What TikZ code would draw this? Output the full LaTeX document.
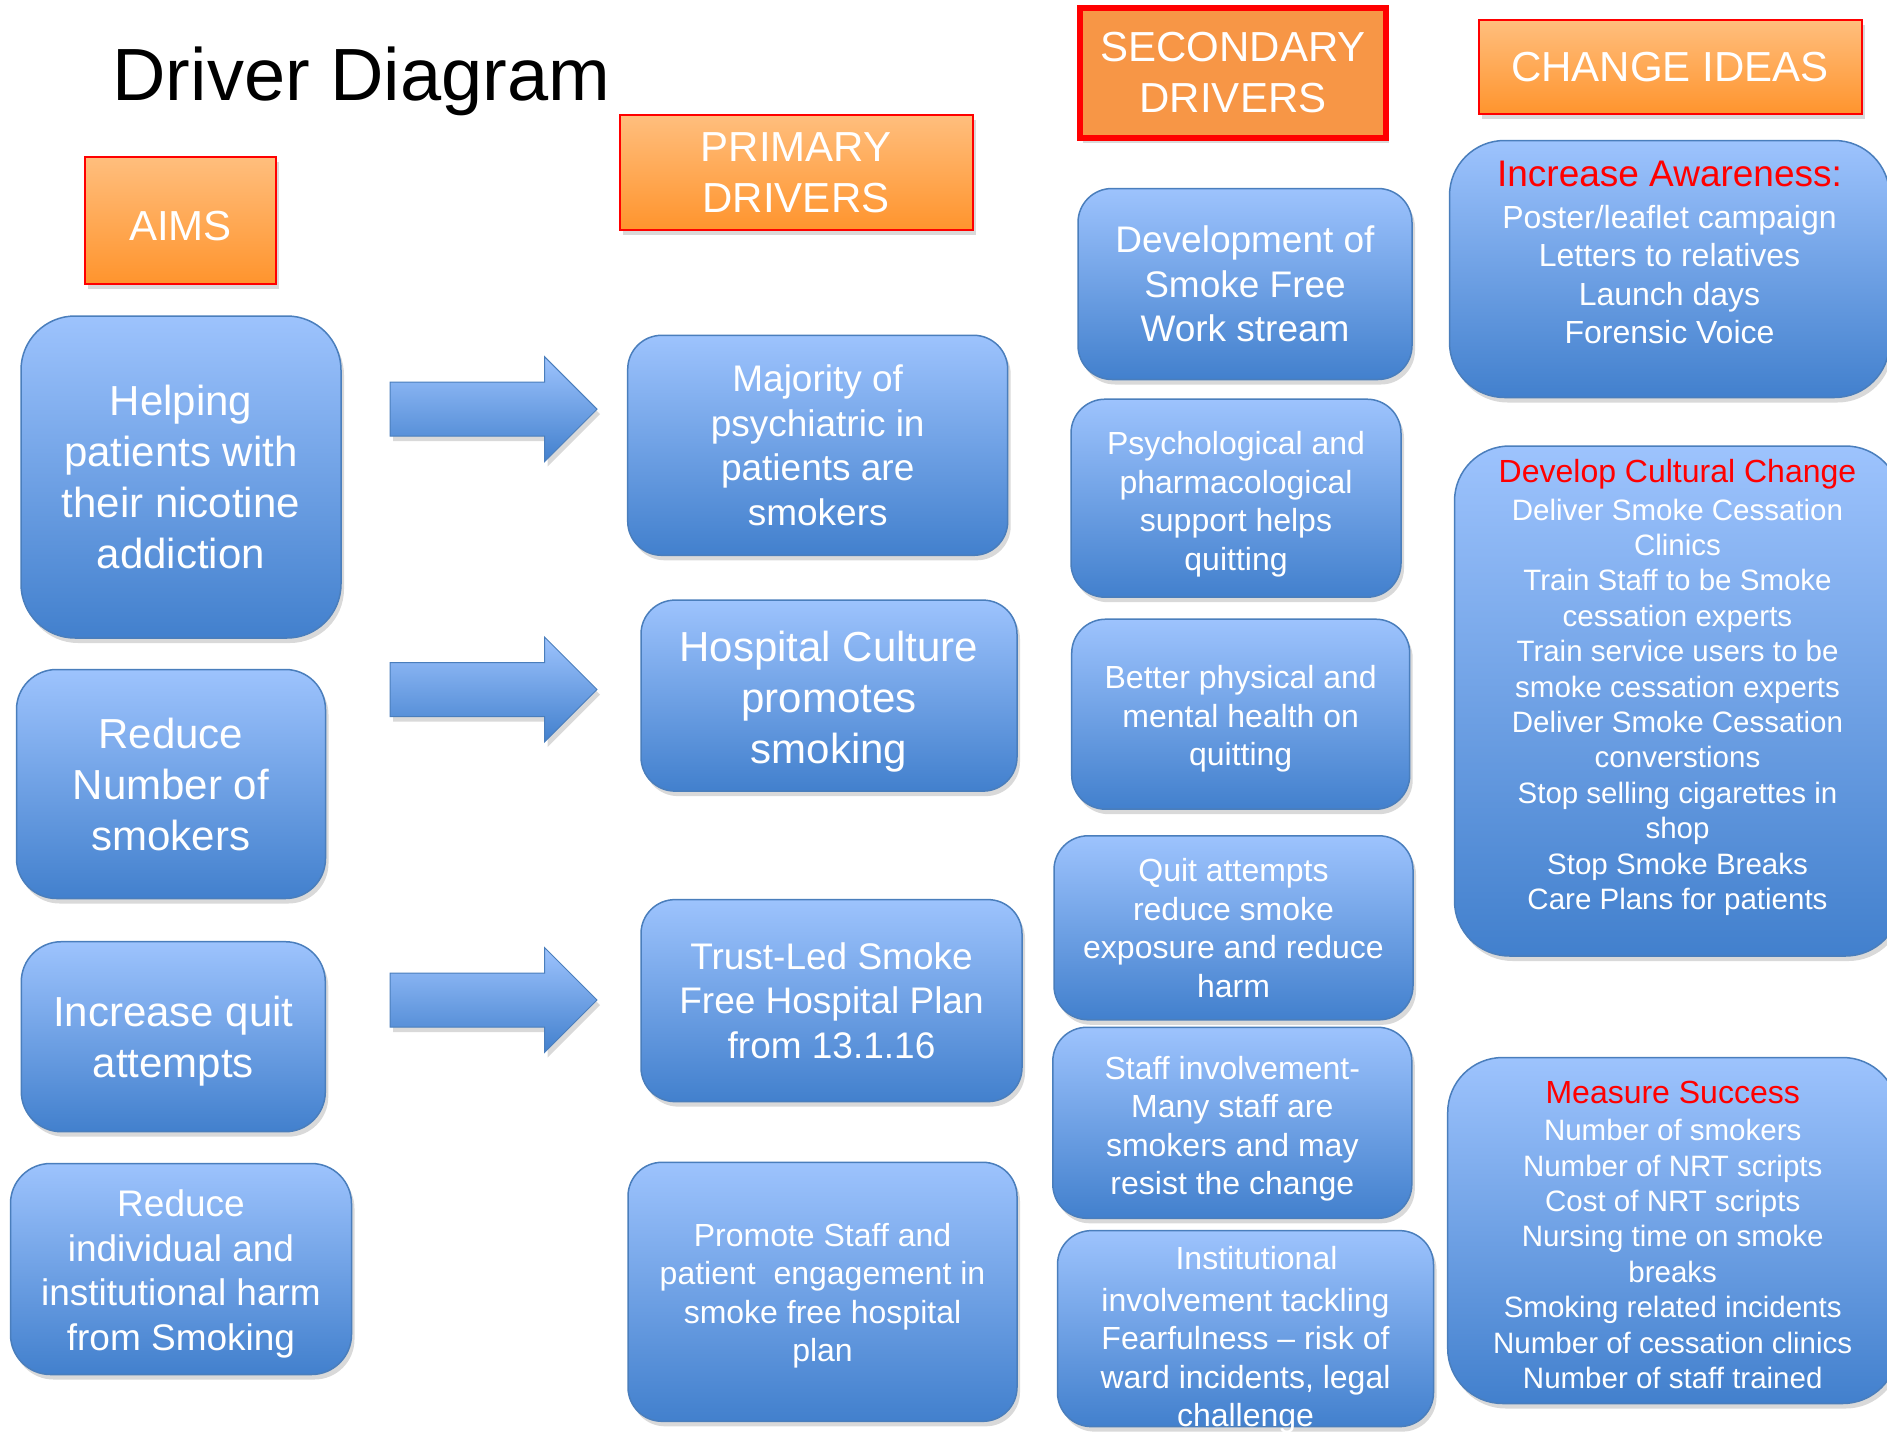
\documentclass[tikz,border=0pt]{standalone}
\usepackage{fontspec}
\setmainfont{Liberation Sans}
\usetikzlibrary{shadows,shapes.arrows}
\definecolor{boxtop}{RGB}{157,195,253}
\definecolor{boxbot}{RGB}{66,128,205}
\definecolor{boxline}{RGB}{74,126,188}
\definecolor{hdtop}{RGB}{255,190,125}
\definecolor{hdbot}{RGB}{255,148,45}
\definecolor{hdflat}{RGB}{247,150,70}
\begin{document}
\begin{tikzpicture}[x=1pt,y=-1pt,
  shade/.style={drop shadow={shadow xshift=3pt,shadow yshift=-5pt,opacity=0.3}},
  hd/.style={draw=red,line width=2pt,top color=hdtop,bottom color=hdbot,text=white,
    align=center,inner sep=0pt,font=\fontsize{42}{51}\selectfont,shade},
  box/.style={draw=boxline,line width=1.5pt,rounded corners=34pt,top color=boxtop,
    bottom color=boxbot,text=white,align=center,inner sep=0pt,shade},
  txt/.style={text=white,align=center,inner sep=0pt},
  sizeL/.style={font=\fontsize{42}{51}\selectfont},
  sizeM/.style={font=\fontsize{37}{44.5}\selectfont},
  sizeS/.style={font=\fontsize{32}{38.5}\selectfont},
  sizeXS/.style={font=\fontsize{29.5}{35.4}\selectfont},
  blockarrow/.style={single arrow,draw=boxline,line width=1pt,top color=boxtop,
    bottom color=boxbot,minimum height=207pt,minimum width=104pt,
    single arrow head extend=25.5pt,inner xsep=0pt,inner ysep=26.5pt,shade}]
  \useasboundingbox (0,0) rectangle (1887,1440);
  \clip (0,0) rectangle (1887,1440);

  \node[anchor=base west,font=\fontsize{74}{80}\selectfont] (title) at (109,100) {Driver Diagram};

  \node[hd,minimum width=191pt,minimum height=127pt] (aims) at (180.5,220.5) {\rule{0pt}{40pt}AIMS};
  \node[hd,minimum width=353pt,minimum height=115pt] (prim) at (796,172.7) {PRIMARY\\DRIVERS};
  \node[hd,line width=6pt,top color=hdflat,bottom color=hdflat,
    minimum width=306pt,minimum height=130pt] (sec) at (1233,72.8) {SECONDARY\\DRIVERS};
  \node[hd,minimum width=383pt,minimum height=94pt] (chg) at (1670,67.4) {CHANGE IDEAS};

  \node[box,sizeL,rounded corners=54pt,minimum width=320pt,minimum height=322pt] (a1) at (181,477)
    {Helping\\patients with\\their nicotine\\addiction};
  \node[box,sizeL,rounded corners=40pt,minimum width=309pt,minimum height=229pt] (a2) at (171,784)
    {Reduce\\Number of\\smokers};
  \node[box,sizeL,rounded corners=40pt,minimum width=304pt,minimum height=190pt] (a3) at (173.3,1036.7)
    {\rule{0pt}{40pt}Increase quit\\attempts};
  \node[box,sizeM,rounded corners=40pt,minimum width=341pt,minimum height=211pt] (a4) at (181,1269)
    {\rule{0pt}{36.5pt}Reduce\\individual and\\institutional harm\\from Smoking};

  \node[blockarrow] (r1) at (480,409.2) {};
  \node[blockarrow] (r2) at (480,689.5) {};
  \node[blockarrow] (r3) at (480,1000) {};

  \node[box,sizeM,minimum width=380pt,minimum height=220pt] (p1) at (817.7,445.3)
    {Majority of\\psychiatric in\\patients are\\smokers};
  \node[box,sizeL,minimum width=376pt,minimum height=191pt] (p2) at (829,695.6)
    {\rule{0pt}{42pt}Hospital Culture\\promotes\\smoking};
  \node[box,sizeM,minimum width=381pt,minimum height=202pt] (p3) at (831.5,1000.6)
    {Trust-Led Smoke\\Free Hospital Plan\\from 13.1.16};
  \node[box,sizeS,minimum width=389pt,minimum height=259pt] (p4) at (822.5,1291.8)
    {\rule{0pt}{31.5pt}Promote Staff and\\patient\ \ engagement in\\smoke free hospital\\plan};

  \node[box,sizeM,minimum width=334pt,minimum height=191pt] (s1) at (1245,284)
    {Development of\\Smoke Free\\Work stream};
  \node[box,sizeS,minimum width=330pt,minimum height=198pt] (s2) at (1236,498.2)
    {\rule{0pt}{35pt}Psychological and\\pharmacological\\support helps\\quitting};
  \node[box,sizeS,minimum width=338pt,minimum height=190pt] (s3) at (1240.7,714.2)
    {\rule{0pt}{33pt}Better physical and\\mental health on\\quitting};
  \node[box,sizeS,minimum width=359pt,minimum height=184pt] (s4) at (1233.5,927.8)
    {Quit attempts\\reduce smoke\\exposure and reduce\\harm};
  \node[box,sizeS,minimum width=359pt,minimum height=191pt] (s5) at (1232.3,1122.8)
    {\rule{0pt}{35.5pt}Staff involvement-\\Many staff are\\smokers and may\\resist the change};
  \node[box,minimum width=376pt,minimum height=196pt] (s6) at (1245.5,1328.6) {};
  \node[txt,sizeS] (s6t) at ([yshift=-11pt]s6.center)
    {\hspace*{22pt}Institutional\\[3.5pt]involvement tackling\\Fearfulness – risk of\\ward incidents, legal\\challenge};

  \node[box,rounded corners=55pt,minimum width=440pt,minimum height=257pt] (c1) at (1669.5,269) {};
  \node[txt,sizeS] (c1t) at ([yshift=16.5pt]c1.center)
    {{\color{red}\fontsize{37}{44}\selectfont Increase Awareness:}\\[3.5pt]Poster/leaflet campaign\\
     Letters to relatives\\Launch days\\Forensic Voice};
  \node[box,rounded corners=55pt,minimum width=446pt,minimum height=510pt] (c2) at (1677.5,701) {};
  \node[txt,sizeXS] (c2t) at ([yshift=13.5pt]c2.center)
    {{\color{red}\fontsize{32}{38.5}\selectfont Develop Cultural Change}\\[2pt]Deliver Smoke Cessation\\
     Clinics\\Train Staff to be Smoke\\cessation experts\\Train service users to be\\
     smoke cessation experts\\Deliver Smoke Cessation\\converstions\\Stop selling cigarettes in\\
     shop\\Stop Smoke Breaks\\Care Plans for patients};
  \node[box,sizeXS,rounded corners=55pt,minimum width=450pt,minimum height=346pt] (c3) at (1672.7,1230.5)
    {{\color{red}\fontsize{32}{38.5}\selectfont\rule{0pt}{31pt}Measure Success}\\[2pt]Number of smokers\\
     Number of NRT scripts\\Cost of NRT scripts\\Nursing time on smoke\\breaks\\
     Smoking related incidents\\Number of cessation clinics\\Number of staff trained};
\end{tikzpicture}
\end{document}
